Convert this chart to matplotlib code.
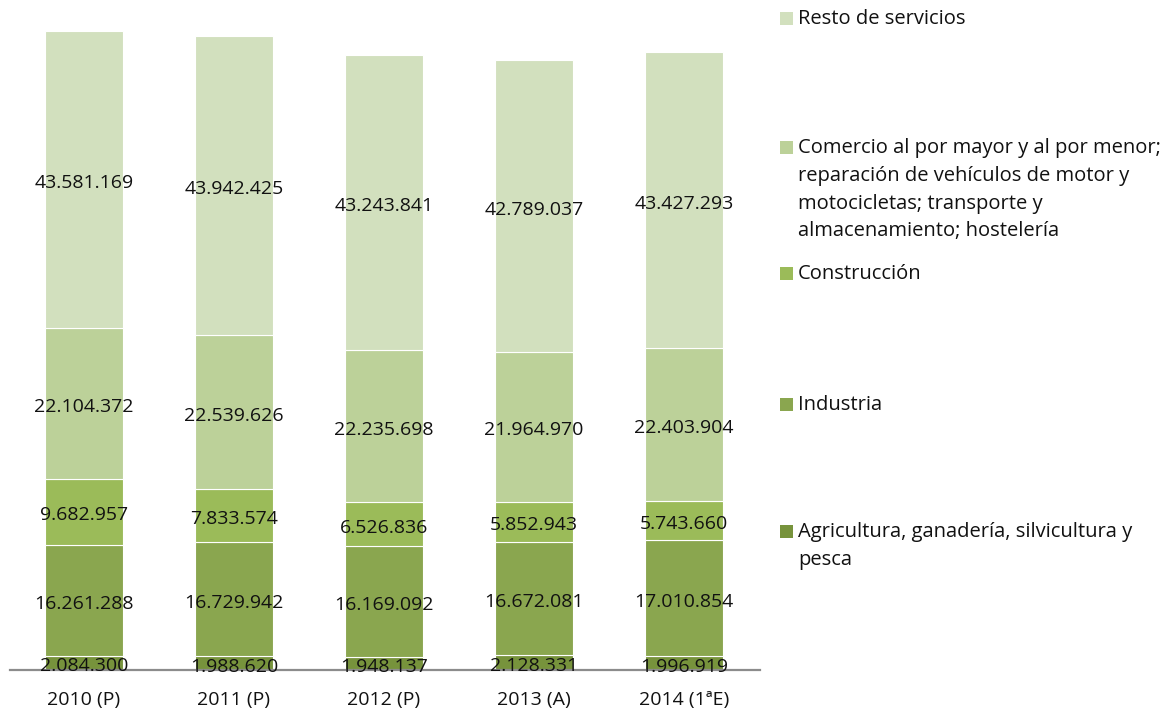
import matplotlib
matplotlib.use("Agg")
import matplotlib.pyplot as plt
import numpy as np
from matplotlib.patches import Rectangle

plt.rcParams["font.family"] = ["Open Sans", "DejaVu Sans"]

years = ["2010 (P)", "2011 (P)", "2012 (P)", "2013 (A)", "2014 (1ªE)"]

agricultura = [2084300, 1988620, 1948137, 2128331, 1996919]
industria = [16261288, 16729942, 16169092, 16672081, 17010854]
construccion = [9682957, 7833574, 6526836, 5852943, 5743660]
comercio = [22104372, 22539626, 22235698, 21964970, 22403904]
resto = [43581169, 43942425, 43243841, 42789037, 43427293]

series_names = [
    "Agricultura, ganadería, silvicultura y\npesca",
    "Industria",
    "Construcción",
    "Comercio al por mayor y al por menor;\nreparación de vehículos de motor y\nmotocicletas; transporte y\nalmacenamiento; hostelería",
    "Resto de servicios",
]
series_values = [agricultura, industria, construccion, comercio, resto]
colors = ["#77933C", "#8AA64F", "#9BBB59", "#BCD199", "#D2E0BE"]

W, H = 1175, 717
fig = plt.figure(figsize=(W / 100, H / 100), dpi=100)
ax = fig.add_axes([10 / W, 1 - 670 / H, 750 / W, 670 / H])

x = np.arange(len(years))
bottom = np.zeros(len(years))
for name, vals, col in zip(series_names, series_values, colors):
    v = np.array(vals, dtype=float)
    ax.bar(x, v, 0.52, bottom=bottom, color=col, edgecolor="white",
           linewidth=0.8, zorder=2)
    for xi, b, h in zip(x, bottom, v):
        ax.annotate(f"{int(h):,}".replace(",", "."), (xi, b + h / 2),
                    xytext=(0, -2.5), textcoords="offset points",
                    ha="center", va="center", fontsize=14, color="#111111",
                    zorder=4)
    bottom += v

ax.set_xlim(-0.493, 4.507)
ax.set_ylim(0, 670 / 639 * (bottom[0]))
ax.axhline(0, color="#8C8C8C", linewidth=1.6, zorder=3, clip_on=False)
for s in ax.spines.values():
    s.set_visible(False)
ax.set_yticks([])
ax.set_xticks(x)
ax.set_xticklabels(years, fontsize=14, color="#111111")
ax.tick_params(axis="x", length=0, pad=15)

# Legend, top entry first
legend_y = {4: 18, 3: 147, 2: 273, 1: 404, 0: 531}
for i in [4, 3, 2, 1, 0]:
    yc = legend_y[i]
    fig.patches.append(Rectangle((780 / W, 1 - (yc + 6.5) / H), 13 / W, 13 / H,
                                 transform=fig.transFigure, facecolor=colors[i],
                                 edgecolor="none"))
    fig.text(798 / W, 1 - (yc - 9) / H, series_names[i], ha="left", va="top",
             fontsize=14.5, color="#111111", linespacing=1.52)

fig.savefig("out.png", dpi=100)
